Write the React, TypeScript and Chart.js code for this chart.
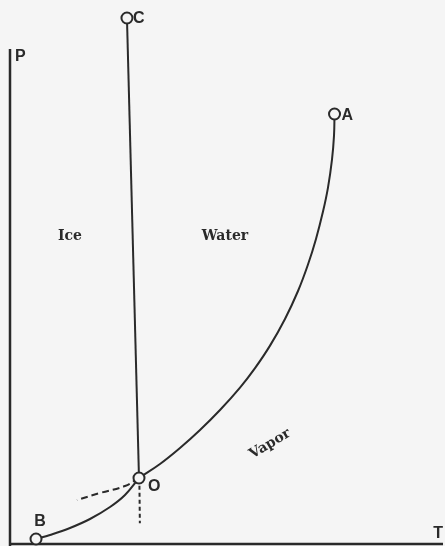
import React, { useEffect, useRef } from "react";
import { Chart, registerables } from "chart.js";

Chart.register(...registerables);

// Axis extents (arbitrary units of T and P)
const T_MAX = 100;
const P_MAX = 100;
const P_AXIS_TOP = 92.7;
const T_AXIS_END = 100.7;

// Triple point and end points of the phase curves
const pointO = { x: 30.0, y: 12.36 };
const pointA = { x: 75.47, y: 80.52 };
const pointB = { x: 6.05, y: 0.94 };
const pointC = { x: 27.2, y: 98.5 };

// Vaporization curve O -> A
const curveOA_T = [30.0, 34.88, 39.53, 44.19, 48.84, 53.49, 56.98, 60.47, 63.95, 66.98, 69.3, 71.16, 72.79, 73.95, 74.88, 75.35, 75.47];
const curveOA_P = [12.36, 14.98, 17.98, 21.35, 25.09, 29.29, 32.94, 37.15, 42.15, 47.38, 52.34, 57.13, 62.25, 66.74, 71.99, 76.48, 80.52];

// Sublimation curve B -> O
const curveBO_T = [6.05, 9.3, 13.95, 18.6, 23.26, 26.74, 30.0];
const curveBO_P = [0.94, 1.69, 3.0, 4.68, 6.93, 9.18, 12.36];

// Melting curve O -> C
const curveOC_T = [30.0, 27.2];
const curveOC_P = [12.36, 98.5];

// Metastable (supercooled water) extension, dashed
const dashLeft_T = [30.0, 26.74, 20.93, 15.58];
const dashLeft_P = [12.36, 10.86, 9.55, 8.24];

// Dashed extension of melting line below O
const dashDown_T = [30.1, 30.2];
const dashDown_P = [10.9, 3.9];

// Region labels
const regionNames = ["Ice", "Water", "Vapor"];
const regionT = [13.95, 50.0, 60.47];
const regionP = [57.6, 57.6, 18.73];
const regionAngle = [0, 0, -31];

const pts = (xs: number[], ys: number[]) => xs.map((x, i) => ({ x, y: ys[i] }));

const INK = "#2a2a2a";
const PAPER = "#f5f5f5";

export default function App() {
  const ref = useRef<HTMLCanvasElement | null>(null);

  useEffect(() => {
    document.body.style.margin = "0";
    document.body.style.background = PAPER;
    const canvas = ref.current;
    if (!canvas) return;

    const lineDs = (data: { x: number; y: number }[], dash: number[] = [], width = 2) => ({
      type: "line" as const,
      data,
      borderColor: INK,
      borderWidth: width,
      borderDash: dash,
      pointRadius: 0,
      fill: false,
      tension: 0.4,
      cubicInterpolationMode: "default" as const,
      clip: false as any,
      order: 1,
    });

    const labelPlugin = {
      id: "labels",
      beforeDraw(chart: any) {
        const c = chart.ctx;
        c.save();
        c.fillStyle = PAPER;
        c.fillRect(0, 0, chart.width, chart.height);
        c.restore();
      },
      afterDatasetsDraw(chart: any) {
        const c = chart.ctx as CanvasRenderingContext2D;
        const xs = chart.scales.x;
        const ys = chart.scales.y;
        const px = (v: number) => xs.getPixelForValue(v);
        const py = (v: number) => ys.getPixelForValue(v);
        c.save();
        c.fillStyle = INK;
        c.textBaseline = "middle";
        c.textAlign = "left";
        c.font = "bold 16px 'Liberation Sans', Arial, sans-serif";
        // point letters
        c.fillText("C", px(pointC.x) + 6, py(pointC.y) + 1);
        c.fillText("A", px(pointA.x) + 7, py(pointA.y) + 2);
        c.fillText("O", px(pointO.x) + 9, py(pointO.y) + 9);
        c.textAlign = "center";
        c.fillText("B", px(pointB.x) + 4, py(pointB.y) - 17);
        // axis letters
        c.textAlign = "left";
        c.fillText("P", px(0) + 5, py(P_AXIS_TOP) + 8);
        c.textAlign = "right";
        c.fillText("T", px(T_AXIS_END), py(0) - 10);
        // region names
        c.font = "bold 14px 'DejaVu Serif', serif";
        c.textAlign = "center";
        regionNames.forEach((name, i) => {
          c.save();
          c.translate(px(regionT[i]), py(regionP[i]));
          c.rotate((regionAngle[i] * Math.PI) / 180);
          c.fillText(name, 0, 0);
          c.restore();
        });
        c.restore();
      },
    };

    const chart = new Chart(canvas, {
      type: "scatter",
      data: {
        datasets: [
          {
            type: "scatter",
            data: [pointO, pointA, pointB, pointC],
            pointRadius: 5.5,
            pointHoverRadius: 5.5,
            borderWidth: 2,
            borderColor: INK,
            backgroundColor: PAPER,
            clip: false as any,
            order: -1,
          } as any,
          lineDs(pts(curveOA_T, curveOA_P)),
          lineDs(pts(curveBO_T, curveBO_P)),
          { ...lineDs(pts(curveOC_T, curveOC_P)), tension: 0 },
          lineDs(pts(dashLeft_T, dashLeft_P), [7, 4]),
          { ...lineDs(pts(dashDown_T, dashDown_P), [4, 3]), tension: 0 },
          { ...lineDs([{ x: 0, y: -0.5 }, { x: 0, y: P_AXIS_TOP }], [], 2.5), tension: 0 },
          { ...lineDs([{ x: 0, y: 0 }, { x: T_AXIS_END, y: 0 }], [], 2.5), tension: 0 },
        ] as any,
      },
      options: {
        animation: false,
        responsive: false,
        layout: { autoPadding: false, padding: { left: 10, right: 5, top: 10, bottom: 2 } },
        scales: {
          x: { type: "linear", min: 0, max: T_MAX, display: false },
          y: { type: "linear", min: 0, max: P_MAX, display: false },
        },
        plugins: { legend: { display: false }, tooltip: { enabled: false } },
      },
      plugins: [labelPlugin],
    });

    return () => chart.destroy();
  }, []);

  return (
    <div style={{ width: 445, height: 546 }}>
      <canvas ref={ref} width={445} height={546} style={{ display: "block" }} />
    </div>
  );
}
